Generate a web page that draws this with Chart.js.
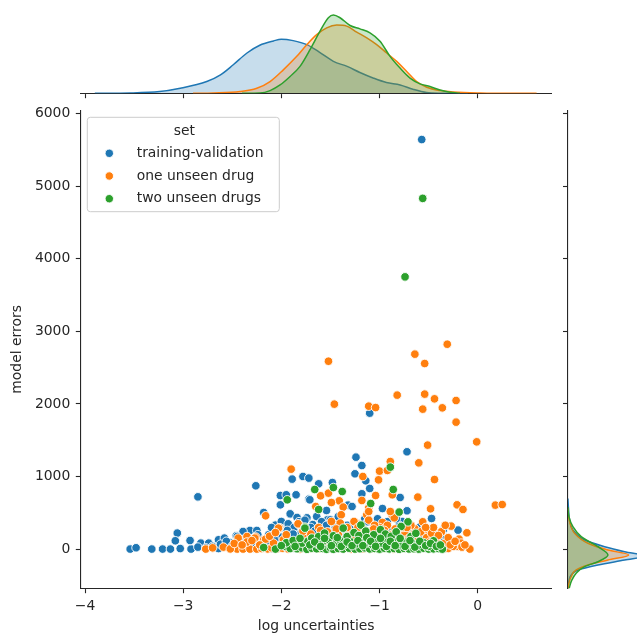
<!DOCTYPE html>
<html><head><meta charset="utf-8">
<script src="https://cdn.jsdelivr.net/npm/chart.js@4/dist/chart.umd.min.js"></script>
<style>
html,body{margin:0;padding:0;overflow:hidden;background:#fff;width:637px;height:634px;position:relative}
canvas{position:absolute;left:0;top:0}
</style></head><body>
<canvas id="main" width="660" height="634"></canvas>
<canvas id="topm" width="660" height="634"></canvas>
<canvas id="rightm" width="660" height="634"></canvas>
<script>
// ---------- data ----------
const seriesNames = ['training-validation', 'one unseen drug', 'two unseen drugs'];
const xTicks = [-4, -3, -2, -1, 0];
const yTicks = [0, 1000, 2000, 3000, 4000, 5000, 6000];

// [log uncertainty, model error]
const trainingValidation = [
[-0.57,5640],[-1.10,1874],[-0.72,1342],[-1.24,1268],[-1.18,1153],[-1.25,1039],[-1.14,943],[-1.10,837],[-1.18,764],
[-0.97,561],[-0.79,713],[-0.72,530],[-0.47,424],[-0.20,264],[-0.35,268],[-1.78,1002],[-1.72,980],[-1.62,901],[-1.48,919],
[-1.72,691],[-1.54,534],[-1.74,433],[-1.64,451],[-1.53,406],[-1.32,608],[-3.54,3],[-3.48,21],[-3.32,3],[-3.21,3],[-3.13,3],
[-3.03,10],[-2.92,3],[-2.85,722],[-3.06,223],[-3.08,117],[-2.93,121],[-2.82,85],[-2.74,85],[-2.64,131],[-2.58,154],[-2.46,186],
[-2.38,223],[-2.32,259],[-2.18,506],[-2.26,874],[-1.89,966],[-2.01,740],[-1.95,750],[-1.85,750],[-2.01,612],[-1.91,488],
[-1.84,438],[-2.06,333],[-1.98,333],[-1.71,681],[-2.00,383],[-1.93,351],[-1.50,406],[-1.44,383],[-2.39,245],[-2.45,176],
[-2.25,259],[-0.77,383],[-0.34,154],[-1.28,589],[-2.08,268],[-2.01,291],[-1.87,300],
[-2.85,30],[-2.77,20],[-2.70,40],[-2.64,10],[-2.58,50],[-2.52,20],[-2.46,60],[-2.40,25],[-2.34,40],[-2.28,15],[-2.22,30],
[-2.16,45],[-2.10,10],[-2.04,35],[-1.98,20],[-1.92,40],[-1.86,15],[-1.80,60],[-1.74,25],[-1.68,45],[-1.62,20],[-1.56,55],
[-1.50,30],[-1.44,50],[-1.38,25],[-1.32,40],[-1.26,20],[-1.20,50],[-1.14,30],[-1.08,45],[-1.02,20],[-0.96,40],[-0.90,25],
[-0.84,50],[-0.78,20],[-0.72,35],[-0.66,15],[-0.60,40],[-0.54,20],[-0.48,30],[-0.42,15],
[-2.52,90],[-2.42,120],[-2.32,100],[-2.22,140],[-2.13,200],[-2.10,300],[-2.06,150],[-1.95,100],[-1.91,180],[-1.85,120],
[-1.80,220],[-1.78,340],[-1.68,340],[-1.62,300],[-1.56,260],[-1.45,300],[-1.40,250],[-1.33,330],[-1.27,290],[-1.20,250],
[-1.15,420],[-1.05,330],[-0.95,300],[-0.88,260],[-0.80,330],[-0.65,200],[-0.55,150],[-1.75,160],[-1.71,230],[-1.61,180],
[-1.52,200],[-1.38,160],[-1.24,180],[-1.10,230],[-1.00,150],[-0.86,170],[-0.75,180],[-0.62,120],[-0.50,90],
[-2.62,70],[-2.56,110],[-2.50,45],[-2.44,90],[-2.36,150],[-2.30,60],[-2.24,200],[-2.19,110],[-2.12,70],[-2.05,240],
[-1.99,170],[-1.94,260],[-1.88,210],[-1.82,380],[-1.76,400],[-1.70,300],[-1.66,250],[-1.59,380],[-1.54,330],[-1.48,220],
[-1.42,450],[-1.36,280],[-1.30,200],[-1.22,350],[-1.17,300],[-1.12,380],[-1.07,260],[-1.02,420],[-0.92,380],[-0.83,420],
[-0.70,260],[-0.58,320],[-0.44,200],[-0.38,100]
];
const oneUnseenDrug = [
[-0.31,2823],[-0.64,2686],[-0.54,2557],[-1.52,2589],[-1.46,1998],[-1.11,1970],[-1.04,1951],[-0.82,2122],[-0.54,2136],
[-0.44,2071],[-0.22,2048],[-0.36,1947],[-0.56,1929],[-0.22,1750],[-0.01,1479],[-0.51,1434],[-0.60,1190],[-0.44,960],
[-0.89,1208],[-1.00,1076],[-0.92,1085],[-1.01,956],[-1.17,1002],[-1.18,672],[-1.04,740],[-1.11,571],[-1.13,475],[-1.11,402],
[-0.87,750],[-0.61,718],[-0.48,557],[-0.21,612],[-0.15,548],[0.18,608],[0.25,616],[-0.87,470],[-0.85,433],[-0.56,378],
[-0.27,319],[-0.11,227],[-0.19,140],[-0.17,85],[-0.08,3],[-0.20,39],[-0.30,11],[-0.37,241],[-0.64,282],[-0.54,286],[-0.51,195],
[-1.60,736],[-1.52,773],[-1.41,667],[-1.49,644],[-1.37,581],[-1.65,589],[-1.39,475],[-1.24,360],[-2.77,3],[-2.59,30],[-2.45,3],
[-2.39,3],[-2.32,3],[-2.25,3],[-2.35,176],[-2.26,168],[-2.16,461],[-2.02,296],[-1.90,1103],[-1.82,341],[-2.18,131],[-2.03,291],
[-1.83,351],[-0.97,369],[-0.89,520],[-1.11,520],[-1.26,383],[-1.62,300],[-1.49,383],[-1.40,360],
[-2.52,5],[-2.20,10],[-2.14,5],[-2.10,20],[-2.04,8],[-1.99,15],[-1.93,4],[-1.87,25],[-1.81,6],[-1.76,30],[-1.71,8],[-1.66,40],
[-1.61,10],[-1.56,35],[-1.50,8],[-1.45,45],[-1.40,12],[-1.34,30],[-1.29,5],[-1.23,40],[-1.17,8],[-1.12,35],[-1.07,10],[-1.01,45],
[-0.96,15],[-0.91,35],[-0.86,5],[-0.81,25],[-0.76,12],[-0.71,40],[-0.66,8],[-0.61,30],[-0.56,15],[-0.51,45],[-0.46,10],[-0.41,30],
[-0.36,5],[-0.25,40],
[-2.44,154],[-2.35,100],[-2.27,154],[-2.16,140],[-2.08,85],[-1.98,131],[-1.84,107],[-1.69,39],[-1.75,160],[-1.70,210],[-1.64,120],
[-1.58,180],[-1.53,240],[-1.47,150],[-1.42,200],[-1.36,130],[-1.31,250],[-1.26,170],[-1.20,210],[-1.16,130],[-1.09,250],[-1.03,170],
[-0.98,230],[-0.93,150],[-0.88,200],[-0.83,120],[-0.78,180],[-0.74,240],[-0.70,150],[-0.66,200],[-0.62,130],[-0.58,240],[-0.52,160],
[-0.47,220],[-0.42,140],
[-1.00,300],[-0.92,330],[-0.76,300],[-0.68,330],[-0.45,300],[-0.33,330],[-1.33,300],[-1.18,290],[-1.05,330],
[-2.70,20],[-2.48,80],[-2.40,60],[-2.30,120],[-2.22,60],[-2.12,180],[-2.06,230],[-1.95,200],[-1.90,80],[-1.78,250],[-1.72,120],
[-1.60,260],[-1.55,110],[-1.44,280],[-1.38,60],[-1.28,140],[-1.22,300],[-1.14,200],[-1.06,280],[-1.00,100],[-0.95,260],[-0.90,120],
[-0.84,280],[-0.80,80],[-0.72,300],[-0.68,60],[-0.64,160],[-0.57,80],[-0.53,300],[-0.49,100],[-0.44,60],[-0.40,190],[-0.34,80],
[-0.30,160],[-0.28,60],[-0.23,110],[-0.16,30],[-0.13,60]
];
const twoUnseenDrugs = [
[-0.56,4830],[-0.74,3750],[-0.89,1131],[-1.09,630],[-0.86,823],[-0.80,512],[-0.71,378],[-0.45,117],[-0.68,176],[-0.78,314],
[-1.66,823],[-1.47,850],[-1.38,795],[-1.62,548],[-1.19,333],[-1.94,681],[-1.76,305],
[-2.18,25],[-2.06,3],[-1.96,39],[-1.91,10],[-1.84,7],[-1.79,20],[-1.74,0],[-1.69,15],[-1.64,7],[-1.58,12],[-1.54,0],[-1.50,18],
[-1.47,0],[-1.42,10],[-1.37,3],[-1.31,15],[-1.25,3],[-1.20,8],[-1.15,20],[-1.10,5],[-1.05,12],[-1.00,2],[-0.95,15],[-0.90,5],
[-0.85,10],[-0.80,0],[-0.75,12],[-0.70,4],[-0.65,8],[-0.60,2],[-0.55,14],[-0.50,3],[-0.45,6],[-0.40,10],[-0.36,2],
[-1.95,90],[-1.88,121],[-1.79,85],[-1.73,110],[-1.69,154],[-1.63,70],[-1.58,100],[-1.52,130],[-1.45,80],[-1.40,120],[-1.36,60],
[-1.30,110],[-1.24,75],[-1.18,140],[-1.12,90],[-1.07,60],[-1.02,120],[-0.97,80],[-0.92,140],[-0.87,70],[-0.82,110],[-0.77,60],
[-0.72,100],[-0.66,75],[-0.61,50],[-0.55,90],[-0.50,40],
[-1.76,291],[-1.62,176],[-1.56,223],[-1.47,186],[-1.37,291],[-1.33,176],[-1.26,230],[-1.21,190],[-1.14,250],[-1.06,200],
[-0.99,270],[-0.94,210],[-0.88,180],[-0.83,240],[-0.63,220],
[-2.00,50],[-1.86,40],[-1.81,150],[-1.71,60],[-1.66,100],[-1.60,40],[-1.56,150],[-1.49,50],[-1.43,160],[-1.39,40],[-1.33,100],
[-1.28,50],[-1.22,120],[-1.17,50],[-1.13,160],[-1.09,110],[-1.04,40],[-0.99,150],[-0.93,40],[-0.89,110],[-0.84,50],[-0.79,150],
[-0.74,40],[-0.69,120],[-0.64,30],[-0.59,110],[-0.53,50],[-0.48,80],[-0.42,40],[-0.38,60]
];

// marginal density curves: [log uncertainty, density]
const kdeXTraining = [[-3.90,0],[-3.54,0.003],[-3.24,0.017],[-3.03,0.05],[-2.76,0.117],[-2.62,0.183],[-2.49,0.283],[-2.35,0.40],
[-2.22,0.477],[-2.08,0.52],[-2.00,0.537],[-1.88,0.523],[-1.74,0.483],[-1.61,0.407],[-1.47,0.317],[-1.33,0.267],[-1.20,0.207],
[-1.06,0.15],[-0.93,0.107],[-0.79,0.083],[-0.66,0.04],[-0.52,0.007],[-0.38,0.001],[-0.10,0]];
const kdeXOneUnseen = [[-2.90,0],[-2.69,0.003],[-2.42,0.017],[-2.25,0.05],[-2.115,0.117],[-1.98,0.233],[-1.843,0.367],[-1.741,0.483],
[-1.64,0.583],[-1.538,0.65],[-1.436,0.677],[-1.334,0.667],[-1.232,0.607],[-1.13,0.55],[-1.029,0.483],[-0.927,0.40],[-0.825,0.317],
[-0.723,0.217],[-0.621,0.117],[-0.519,0.06],[-0.384,0.027],[-0.248,0.013],[0.023,0.003],[0.363,0],[0.60,0]];
const kdeXTwoUnseen = [[-2.40,0],[-2.217,0.003],[-2.115,0.027],[-2.013,0.083],[-1.911,0.167],[-1.81,0.267],[-1.708,0.433],
[-1.606,0.617],[-1.521,0.75],[-1.47,0.777],[-1.402,0.75],[-1.30,0.673],[-1.199,0.64],[-1.097,0.60],[-0.995,0.517],[-0.893,0.367],
[-0.791,0.25],[-0.689,0.15],[-0.588,0.093],[-0.486,0.067],[-0.384,0.033],[-0.282,0.01],[-0.18,0]];
// [model error, density]
const kdeYTraining = [[-650,0],[-515,0.003],[-422,0.013],[-354,0.033],[-285,0.10],[-216,0.30],[-147,0.567],[-92,0.77],[-33,0.567],
[36,0.367],[128,0.167],[266,0.05],[403,0.017],[541,0.007],[700,0]];
const kdeYOneUnseen = [[-650,0],[-468,0.01],[-377,0.033],[-285,0.083],[-216,0.20],[-147,0.40],[-78,0.607],[-10,0.40],[83,0.20],
[220,0.067],[403,0.013],[560,0]];
const kdeYTwoUnseen = [[-650,0.003],[-583,0.007],[-515,0.017],[-422,0.04],[-330,0.083],[-239,0.167],[-171,0.30],[-78,0.40],
[36,0.30],[174,0.133],[311,0.05],[449,0.01],[580,0]];

// ---------- style / layout ----------
const COLORS = ['#1f77b4', '#ff7f0e', '#2ca02c'];
const INK = '#262626';
const FONT = 'DejaVu Sans';
const W = 660, H = 634;
const AX = {left: 80.7, right: 551.7, top: 110.5, bottom: 588.3};
const TOPM = {top: 10.7, bottom: 93.3};
const RIGHTM = {left: 567.9, right: 649};
const XR = {min: -4.044, max: 0.754};
const YR = {min: -537, max: 6040};
const tickFont = {family: FONT, size: 13.9};

function rgba(hex, a) {
  const n = parseInt(hex.slice(1), 16);
  return `rgba(${(n >> 16) & 255},${(n >> 8) & 255},${n & 255},${a})`;
}
const fmt = v => v < 0 ? '\u2212' + Math.abs(v) : String(v);
const tickGrid = {drawOnChartArea: false, drawTicks: true, tickLength: 4.9, tickColor: INK, tickWidth: 1.1};
const spine = {display: true, color: INK, width: 1.1};

const legendPlugin = {
  id: 'seabornLegend',
  afterDraw(chart) {
    const ctx = chart.ctx;
    ctx.save();
    ctx.beginPath();
    ctx.roundRect(87.3, 117.3, 192, 94.4, 3);
    ctx.fillStyle = 'rgba(255,255,255,0.8)';
    ctx.fill();
    ctx.strokeStyle = '#cccccc';
    ctx.lineWidth = 1;
    ctx.stroke();
    ctx.font = `13.9px "${FONT}"`;
    ctx.textBaseline = 'middle';
    ctx.textAlign = 'center';
    ctx.fillStyle = INK;
    ctx.fillText('set', 184.3, 131);
    ctx.textAlign = 'left';
    const rows = [153.3, 176, 198.7];
    seriesNames.forEach((name, i) => {
      ctx.beginPath();
      ctx.arc(109.3, rows[i], 4.2, 0, Math.PI * 2);
      ctx.fillStyle = COLORS[i];
      ctx.fill();
      ctx.lineWidth = 0.9;
      ctx.strokeStyle = '#ffffff';
      ctx.stroke();
      ctx.fillStyle = INK;
      ctx.fillText(name, 136.7, rows[i]);
    });
    ctx.restore();
  }
};

const toPts = a => a.map(p => ({x: p[0], y: p[1]}));
const scatterSet = (arr, i) => ({
  label: seriesNames[i], data: toPts(arr),
  pointBackgroundColor: COLORS[i], backgroundColor: COLORS[i], borderColor: '#ffffff',
  pointBorderColor: '#ffffff', pointBorderWidth: 0.9, pointRadius: 4.3, pointHoverRadius: 4.3,
  order: 3 - i
});

new Chart(document.getElementById('main'), {
  type: 'scatter',
  data: {datasets: [
    scatterSet(trainingValidation, 0),
    scatterSet(oneUnseenDrug, 1),
    scatterSet(twoUnseenDrugs, 2)
  ]},
  options: {
    responsive: false, animation: false, devicePixelRatio: 1,
    layout: {padding: {left: 0, top: AX.top, right: W - AX.right, bottom: 0}},
    plugins: {legend: {display: false}, tooltip: {enabled: false}},
    scales: {
      x: {
        type: 'linear', position: 'bottom', min: XR.min, max: XR.max,
        afterBuildTicks: s => { s.ticks = xTicks.map(v => ({value: v})); },
        afterFit: s => { s.height = H - AX.bottom; },
        grid: tickGrid, border: spine,
        ticks: {color: INK, font: tickFont, padding: 4.4, maxRotation: 0, autoSkip: false, callback: v => fmt(v)},
        title: {display: true, text: 'log uncertainties', color: INK, font: tickFont, padding: {top: 0, bottom: -1}}
      },
      y: {
        type: 'linear', position: 'left', min: YR.min, max: YR.max,
        afterBuildTicks: s => { s.ticks = yTicks.map(v => ({value: v})); },
        afterFit: s => { s.width = AX.left; },
        grid: tickGrid, border: spine,
        ticks: {color: INK, font: tickFont, padding: 5.5, autoSkip: false, callback: v => fmt(v)},
        title: {display: true, text: 'model errors', color: INK, font: tickFont, padding: {top: 9, bottom: 0}}
      }
    }
  },
  plugins: [legendPlugin]
});

const kdeSet = (pts, i, swap) => ({
  data: pts.map(p => swap ? {x: p[1], y: p[0]} : {x: p[0], y: p[1]}),
  borderColor: COLORS[i], borderWidth: 1.5, backgroundColor: rgba(COLORS[i], 0.25),
  fill: 'origin', pointRadius: 0, pointHoverRadius: 0, cubicInterpolationMode: 'monotone',
  order: 3 - i
});

new Chart(document.getElementById('topm'), {
  type: 'line',
  data: {datasets: [kdeSet(kdeXTraining, 0), kdeSet(kdeXOneUnseen, 1), kdeSet(kdeXTwoUnseen, 2)]},
  options: {
    responsive: false, animation: false, devicePixelRatio: 1,
    layout: {padding: {left: AX.left, right: W - AX.right, top: TOPM.top, bottom: H - TOPM.bottom - 8}},
    plugins: {legend: {display: false}, tooltip: {enabled: false}},
    scales: {
      x: {
        type: 'linear', position: 'bottom', min: XR.min, max: XR.max,
        afterBuildTicks: s => { s.ticks = xTicks.map(v => ({value: v})); },
        afterFit: s => { s.height = 8; },
        grid: tickGrid, border: spine, ticks: {display: false}
      },
      y: {type: 'linear', display: false, min: 0, max: 0.82}
    }
  }
});

new Chart(document.getElementById('rightm'), {
  type: 'line',
  data: {datasets: [kdeSet(kdeYTraining, 0, true), kdeSet(kdeYOneUnseen, 1, true), kdeSet(kdeYTwoUnseen, 2, true)]},
  options: {
    indexAxis: 'y',
    responsive: false, animation: false, devicePixelRatio: 1,
    layout: {padding: {left: RIGHTM.left - 8, right: W - RIGHTM.right, top: AX.top, bottom: H - AX.bottom}},
    plugins: {legend: {display: false}, tooltip: {enabled: false}},
    scales: {
      x: {type: 'linear', display: false, min: 0, max: 0.81},
      y: {
        type: 'linear', position: 'left', min: YR.min, max: YR.max,
        afterBuildTicks: s => { s.ticks = yTicks.map(v => ({value: v})); },
        afterFit: s => { s.width = 8; },
        grid: tickGrid, border: spine, ticks: {display: false}
      }
    }
  }
});
</script>
</body></html>
